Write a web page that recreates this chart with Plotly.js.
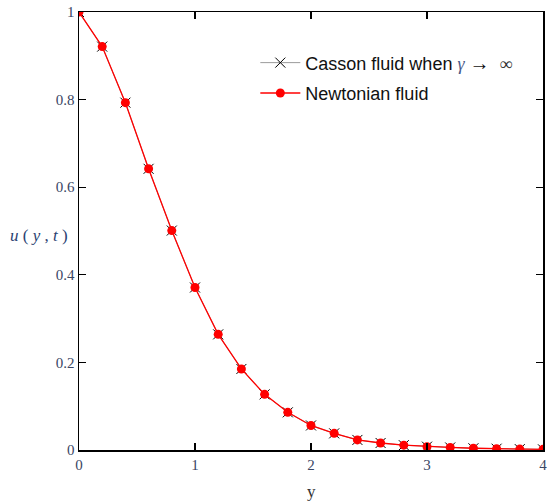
<!DOCTYPE html>
<html>
<head>
<meta charset="utf-8">
<script src="https://cdn.plot.ly/plotly-3.0.1.min.js"></script>
<style>html,body{margin:0;padding:0;background:#fff;}</style>
</head>
<body>
<div id="chart" style="width:547px;height:502px;"></div>
<script>
// y positions
var yPos = [0, 0.2, 0.4, 0.6, 0.8, 1.0, 1.2, 1.4, 1.6, 1.8, 2.0, 2.2, 2.4, 2.6, 2.8, 3.0, 3.2, 3.4, 3.6, 3.8, 4.0];
// Newtonian fluid velocity u(y,t)
var newtonian = [1.0, 0.921, 0.793, 0.642, 0.501, 0.371, 0.264, 0.185, 0.127, 0.086, 0.056, 0.038, 0.023, 0.016, 0.011, 0.0076, 0.0058, 0.004, 0.003, 0.002, 0.0015];
// Casson fluid when gamma -> infinity (coincides with Newtonian)
var casson = [1.0, 0.921, 0.793, 0.642, 0.501, 0.371, 0.264, 0.185, 0.127, 0.086, 0.056, 0.038, 0.023, 0.016, 0.011, 0.0076, 0.0058, 0.004, 0.003, 0.002, 0.0015];
var xTickVals = [0, 1, 2, 3, 4];
var xTickText = ['0', '1', '2', '3', '4'];
var yTickVals = [0, 0.2, 0.4, 0.6, 0.8, 1];
var yTickText = ['0', '0.2', '0.4', '0.6', '0.8', '1'];

var tickFont = {family: 'Liberation Serif, Times New Roman, serif', size: 15, color: '#3a4664'};

var traces = [
  {
    x: yPos, y: casson, type: 'scatter', mode: 'lines+markers',
    name: 'Casson fluid when <i><span style="font-family:Liberation Serif;color:#4a5a8a">\u03b3</span></i> <span style="font-family:Liberation Serif;font-size:20px">\u2192</span>  <span style="font-family:Liberation Serif;color:#333">\u221e</span>',
    legendgroup: 'a',
    line: {color: '#000', width: 0.4},
    marker: {symbol: 'x-thin-open', size: 10, color: '#000', line: {color: '#333', width: 1}}
  },
  {
    x: yPos, y: newtonian, type: 'scatter', mode: 'lines+markers',
    name: 'Newtonian fluid',
    legendgroup: 'b',
    line: {color: '#ff0000', width: 1.3},
    marker: {symbol: 'circle', size: 9, color: '#ff0000'}
  }
];

var layout = {
  width: 547, height: 502,
  margin: {l: 79, r: 4, t: 12, b: 52},
  paper_bgcolor: '#fff', plot_bgcolor: '#fff',
  showlegend: true,
  legend: {
    x: 0.38, y: 0.926, xanchor: 'left', yanchor: 'top',
    bgcolor: 'rgba(0,0,0,0)', borderwidth: 0,
    font: {family: 'Liberation Sans, Arial, sans-serif', size: 18, color: '#111'},
    tracegroupgap: 4, itemwidth: 40
  },
  xaxis: {
    range: [0, 4], tickvals: xTickVals, ticktext: xTickText,
    ticks: 'inside', ticklen: 7, tickcolor: '#000', tickwidth: 1.2,
    showline: true, linecolor: '#000', linewidth: 1.5, mirror: 'ticks',
    showgrid: false, zeroline: false, tickfont: tickFont,
    ticklabeloverflow: 'allow'
  },
  yaxis: {
    range: [0, 1], tickvals: yTickVals, ticktext: yTickText,
    ticks: 'inside', ticklen: 7, tickcolor: '#000', tickwidth: 1.2,
    showline: true, linecolor: '#000', linewidth: 1.5, mirror: 'ticks',
    showgrid: false, zeroline: false, tickfont: tickFont,
    ticklabeloverflow: 'allow'
  },
  annotations: [
    {
      text: '<i>u</i> ( <i>y</i> , <i>t</i> )', xref: 'paper', yref: 'paper',
      x: 0, y: 0.49, xanchor: 'right', yanchor: 'middle', xshift: -9, showarrow: false,
      font: {family: 'Liberation Serif, Times New Roman, serif', size: 17, color: '#2a3f72'}
    },
    {
      text: 'y', xref: 'paper', yref: 'paper',
      x: 0.5, y: 0, xanchor: 'center', yanchor: 'top', yshift: -30, showarrow: false,
      font: {family: 'Liberation Serif, Times New Roman, serif', size: 17, color: '#333'}
    }
  ]
};

Plotly.newPlot('chart', traces, layout, {displayModeBar: false, staticPlot: true});
</script>
</body>
</html>
